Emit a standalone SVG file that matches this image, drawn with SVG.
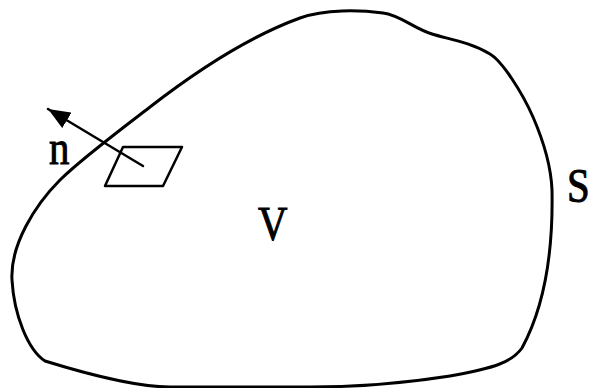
<svg xmlns="http://www.w3.org/2000/svg" width="589" height="388" viewBox="0 0 589 388">
  <style>
    .stroke { fill: none; stroke: #000; stroke-linejoin: round; stroke-linecap: round; }
    .lbl { font-family: "Liberation Serif", "Times New Roman", serif; font-size: 48px; fill: #000; stroke: #000; stroke-width: 1; }
  </style>
  <defs>
    <marker id="arrow" viewBox="0 0 22 18" refX="22" refY="9" markerWidth="22" markerHeight="18" markerUnits="userSpaceOnUse" orient="auto">
      <path d="M0,0 L22,9 L0,18 Z" fill="#000"/>
    </marker>
  </defs>
  <rect width="589" height="388" fill="#fff"/>
  <g id="surface-S">
    <path class="stroke" stroke-width="3" d="M12,280 C10,245 35,205 60,180 C80,160 120,130 150,107 C190,76 245,38 300,18 C325,9 360,10 383,13 C400,15 413,28 432,34 C448,39 470,42 490,54 C502,61 522,92 533,117 C543,140 551,165 552,190 C553,240 548,300 522,348 C512,362 495,368 450,376 C400,384 360,387 310,387 L170,387 C140,387 100,378 45,361 C28,350 14,315 12,280 Z"/>
  </g>
  <g id="surface-element">
    <path class="stroke" stroke-width="2.5" d="M123,147 L182,147 L163,186 L105,186 Z"/>
  </g>
  <g id="connectors">
    <line class="stroke" stroke-width="2.5" x1="143" y1="166" x2="48" y2="109" marker-end="url(#arrow)"/>
  </g>
  <g id="label-n">
    <text class="lbl" transform="translate(49,164) scale(0.85,1)">n</text>
  </g>
  <g id="label-V">
    <text class="lbl" transform="translate(258,240) scale(0.85,1)">V</text>
  </g>
  <g id="label-S">
    <text class="lbl" transform="translate(567,202) scale(0.85,1)">S</text>
  </g>
</svg>
